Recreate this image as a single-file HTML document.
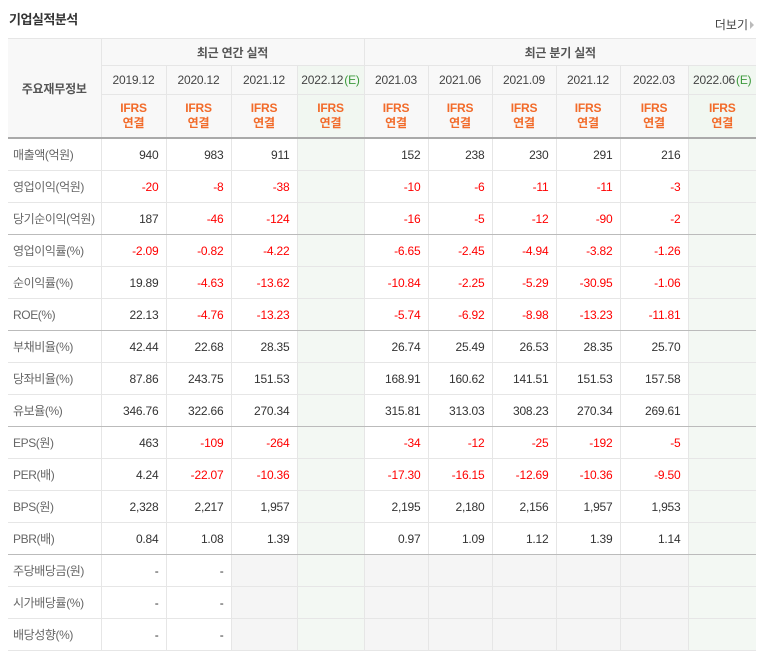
<!DOCTYPE html>
<html><head><meta charset="utf-8">
<style>
body{margin:0;width:764px;height:655px;background:#fff;font-family:"Liberation Sans","Noto Sans CJK KR",sans-serif;overflow:hidden;position:relative}
.title{position:absolute;left:9px;top:9px;font-size:13px;font-weight:bold;color:#333;letter-spacing:-0.5px}
.more{position:absolute;right:10px;top:16px;font-size:12px;color:#444}
.more:after{content:"";display:inline-block;border-left:4px solid #bbb;border-top:4px solid transparent;border-bottom:4px solid transparent;margin-left:2px;vertical-align:0}
table{position:absolute;left:8px;top:38px;border-collapse:collapse;table-layout:fixed;width:748px;font-size:12px;letter-spacing:-0.2px}
td,th{border:1px solid #e6e6e6;padding:0;overflow:hidden;white-space:nowrap}
table{border-top:1px solid #bbb;border-bottom:1px solid #bbb}
tr>*:first-child{border-left:none}
tr>*:last-child{border-right:none}
th{background:#f8f8f8;font-weight:normal;color:#444;text-align:center}
th.grp{font-weight:bold;color:#555;height:26px}
th.d{height:28px}
th.ifrs{height:42px;color:#f26b2a;font-weight:bold;line-height:15px}
th.e{background:#f1f7f1}
.eg{color:#3c9a3c;margin-left:1px}
td.lab{color:#666;padding-left:5px;text-align:left;height:31px;letter-spacing:-0.4px}
td.v{text-align:right;padding-right:7px;color:#333}
td.neg{color:#f00}
td.e{background:#f3f8f3}
td.g{background:#f5f5f5}
tr.sep td{border-bottom:1px solid #bbb}
tr.hd td,tr.hd th{border-bottom:2px solid #aaa}
.b364{border-left:1px solid #ccc !important}
</style></head><body>
<div class="title">기업실적분석</div>
<div class="more">더보기</div>
<table>
<colgroup><col style="width:93px"><col style="width:65px"><col style="width:65px"><col style="width:66px"><col style="width:67px"><col style="width:64px"><col style="width:64px"><col style="width:64px"><col style="width:64px"><col style="width:68px"><col style="width:68px"></colgroup>
<thead id="thead"></thead>
<tbody id="tbody"></tbody>
</table>
<script>
const periods=["2019.12","2020.12","2021.12","2022.12","2021.03","2021.06","2021.09","2021.12","2022.03","2022.06"];
const estimate=[false,false,false,true,false,false,false,false,false,true];
const rowLabels=["매출액(억원)","영업이익(억원)","당기순이익(억원)","영업이익률(%)","순이익률(%)","ROE(%)","부채비율(%)","당좌비율(%)","유보율(%)","EPS(원)","PER(배)","BPS(원)","PBR(배)","주당배당금(원)","시가배당률(%)","배당성향(%)"];
const rowValues=[
["940","983","911","","152","238","230","291","216",""],
["-20","-8","-38","","-10","-6","-11","-11","-3",""],
["187","-46","-124","","-16","-5","-12","-90","-2",""],
["-2.09","-0.82","-4.22","","-6.65","-2.45","-4.94","-3.82","-1.26",""],
["19.89","-4.63","-13.62","","-10.84","-2.25","-5.29","-30.95","-1.06",""],
["22.13","-4.76","-13.23","","-5.74","-6.92","-8.98","-13.23","-11.81",""],
["42.44","22.68","28.35","","26.74","25.49","26.53","28.35","25.70",""],
["87.86","243.75","151.53","","168.91","160.62","141.51","151.53","157.58",""],
["346.76","322.66","270.34","","315.81","313.03","308.23","270.34","269.61",""],
["463","-109","-264","","-34","-12","-25","-192","-5",""],
["4.24","-22.07","-10.36","","-17.30","-16.15","-12.69","-10.36","-9.50",""],
["2,328","2,217","1,957","","2,195","2,180","2,156","1,957","1,953",""],
["0.84","1.08","1.39","","0.97","1.09","1.12","1.39","1.14",""],
["-","-",null,"",null,null,null,null,null,""],
["-","-",null,"",null,null,null,null,null,""],
["-","-",null,"",null,null,null,null,null,""]];
const sepAfter=[2,5,8,12];
let h='<tr><th rowspan="3" style="color:#555;font-weight:bold;border-bottom:2px solid #aaa">주요재무정보</th><th colspan="4" class="grp">최근 연간 실적</th><th colspan="6" class="grp b364">최근 분기 실적</th></tr><tr>';
periods.forEach((p,i)=>{h+='<th class="d'+(estimate[i]?' e':'')+(i==4?' b364':'')+'">'+p+(estimate[i]?'<span class="eg">(E)</span>':'')+'</th>';});
h+='</tr><tr class="hd">';
periods.forEach((p,i)=>{h+='<th class="ifrs'+(estimate[i]?' e':'')+(i==4?' b364':'')+'">IFRS<br>연결</th>';});
h+='</tr>';
document.getElementById('thead').innerHTML=h;
let b='';
rowLabels.forEach((l,r)=>{
 b+='<tr'+(sepAfter.includes(r)?' class="sep"':'')+'><td class="lab">'+l+'</td>';
 rowValues[r].forEach((v,i)=>{
  let c='v';
  if(estimate[i])c+=' e';else if(v===null)c+=' g';
  if(v&&v.length>1&&v[0]=='-')c+=' neg';
  if(i==4)c+=' b364';
  b+='<td class="'+c+'">'+(v||'')+'</td>';
 });
 b+='</tr>';
});
document.getElementById('tbody').innerHTML=b;
</script>
</body></html>
